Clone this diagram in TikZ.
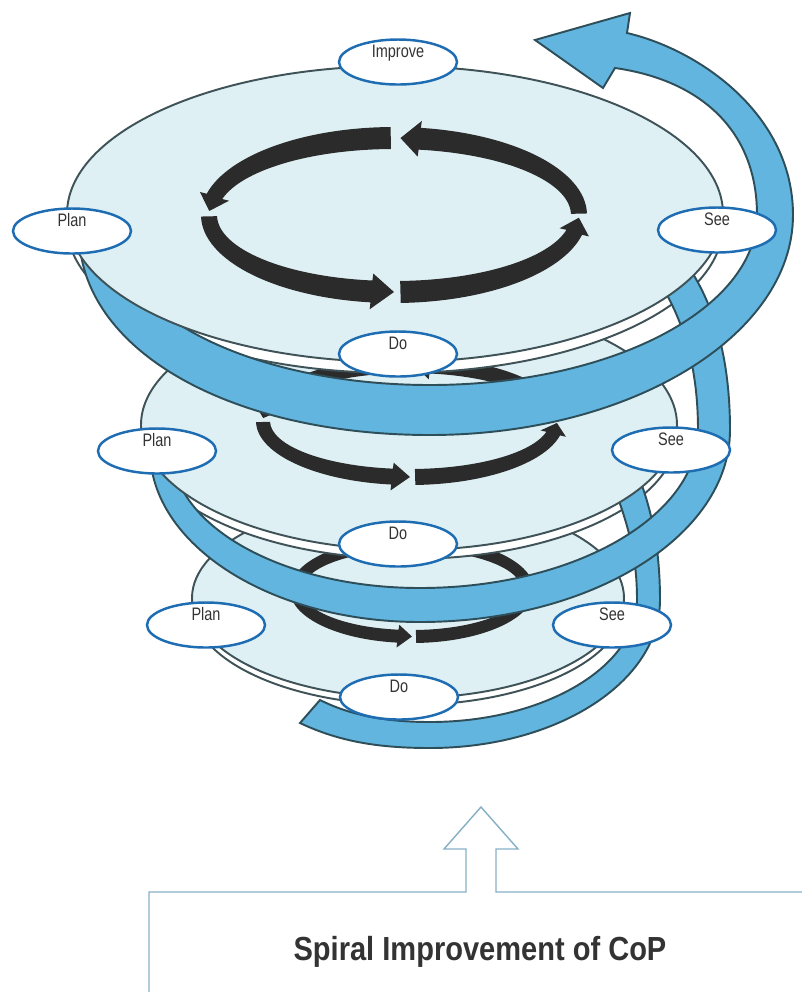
\documentclass[tikz,border=0pt]{standalone}
\usepackage{fontspec}
\usetikzlibrary{shapes.geometric}
\newfontfamily\lblfont[FakeStretch=0.8]{Liberation Sans}
\newfontfamily\titlefont[FakeStretch=0.87]{Liberation Sans}
\definecolor{discfill}{HTML}{DEF0F4}
\definecolor{discline}{HTML}{3E5257}
\definecolor{bandblue}{HTML}{62B5DF}
\definecolor{bandline}{HTML}{2E4E59}
\definecolor{ringblack}{HTML}{2B2B2B}
\definecolor{nodeblue}{HTML}{1E6DB3}
\definecolor{labeltext}{HTML}{333333}
\definecolor{boxblue}{HTML}{86AFC4}
\newcommand{\ringarrows}[7]{%
  \begin{scope}[shift={(#1,#2)}]
    \pgfmathsetmacro\rxob{#3+#7}\pgfmathsetmacro\ryob{#4+#7}
    \pgfmathsetmacro\rxib{#5-#7}\pgfmathsetmacro\ryib{#6-#7}
    \pgfmathsetmacro\rxm{(#3+#5)/2}\pgfmathsetmacro\rym{(#4+#6)/2}
    \foreach \s/\b/\t in {181/263/270, 272/347/358, 1/82/88, 91/166/177}
      \fill[ringfill] (\s:#3 and #4) arc[start angle=\s, end angle=\b, x radius=#3, y radius=#4]
        -- (\b:{\rxob} and {\ryob}) -- (\t:{\rxm} and {\rym}) -- (\b:{\rxib} and {\ryib})
        -- (\b:#5 and #6) arc[start angle=\b, end angle=\s, x radius=#5, y radius=#6] -- cycle;
  \end{scope}}
\begin{document}
\begin{tikzpicture}[x=0.02cm, y=0.02cm,
  disc/.style = {fill=discfill, draw=discline, line width=1.1pt},
  rim/.style = {fill=white, draw=discline, line width=1.1pt},
  band/.style = {fill=bandblue, draw=bandline, line width=1.1pt},
  ringfill/.style = {fill=ringblack},
  stage/.style = {ellipse, draw=nodeblue, fill=white, line width=1.4pt, minimum width=2.36cm,
    minimum height=0.9cm, inner sep=0pt, text height=6pt, text depth=11pt,
    font=\lblfont\fontsize{10.3}{12}\selectfont, text=labeltext}]
\useasboundingbox (0,0) rectangle (802,-992);
\tikzstyle{box line}=[draw=boxblue, line width=0.8pt]

\draw[rim] (408,-605) ellipse [x radius=216, y radius=100];
\draw[disc] (408,-598) ellipse [x radius=216, y radius=100];
\ringarrows{412}{-590}{122}{53}{110}{40}{5}
\filldraw[band] (660,-600) .. controls (660,-682) and (557,-748) .. (430,-748)
  .. controls (380,-748) and (340,-742) .. (300,-723) -- (320,-700)
  .. controls (350,-715) and (385,-722) .. (430,-722)
  .. controls (544,-722) and (637,-667) .. (637,-600);

\draw[rim] (409,-434) ellipse [x radius=268, y radius=125];
\filldraw[band] (637,-600) .. controls (637,-560) and (630,-530) .. (615,-490) -- (640,-480)
  .. controls (655,-520) and (660,-560) .. (660,-600);
\filldraw[band] (730,-430) .. controls (730,-536) and (591,-622) .. (420,-622)
  .. controls (271,-622) and (150,-545) .. (150,-450) -- (172,-450)
  .. controls (172,-526) and (283,-588) .. (420,-588)
  .. controls (573,-588) and (698,-517) .. (698,-430);
\draw[disc] (409,-425) ellipse [x radius=268, y radius=125];
\ringarrows{410}{-421}{154}{64}{140}{48}{6}

\draw[rim] (395,-225) ellipse [x radius=328, y radius=148];
\filldraw[band] (698,-430) .. controls (698,-370) and (685,-320) .. (655,-275) -- (680,-255)
  .. controls (715,-300) and (730,-360) .. (730,-430);
\filldraw[band] (79,-232) .. controls (79,-350) and (230,-435) .. (430,-435)
  .. controls (630,-435) and (793,-336) .. (793,-215)
  .. controls (793,-115) and (700,-50) .. (627,-33)
  -- (630,-13) -- (535,-40) -- (603,-88) -- (615,-68)
  .. controls (700,-80) and (757,-130) .. (757,-215)
  .. controls (757,-309) and (611,-385) .. (430,-385)
  .. controls (256,-385) and (115,-316) .. (115,-232) -- cycle;
\draw[disc] (395,-214) ellipse [x radius=328, y radius=148];
\ringarrows{394}{-215}{193}{88}{177}{66}{7}

\node[stage] (improve) at (398,-62) {Improve};
\node[stage] (plan1) at (72,-231) {Plan};
\node[stage] (see1) at (717,-230) {See};
\node[stage] (do1) at (398,-354) {Do};
\node[stage] (plan2) at (157,-451) {Plan};
\node[stage] (see2) at (671,-450) {See};
\node[stage] (do2) at (398,-544) {Do};
\node[stage] (plan3) at (206,-625) {Plan};
\node[stage] (see3) at (612,-625) {See};
\node[stage] (do3) at (399,-697) {Do};

\draw[style=box line] (149,-992) -- (149,-892) -- (466,-892) -- (466,-849) -- (444,-849)
  -- (481,-807) -- (518,-849) -- (496,-849) -- (496,-892) -- (802,-892);
\node[anchor=base, text=labeltext, font=\titlefont\bfseries\fontsize{19}{22}\selectfont]
  (title) at (480,-960) {Spiral Improvement of CoP};
\end{tikzpicture}
\end{document}
